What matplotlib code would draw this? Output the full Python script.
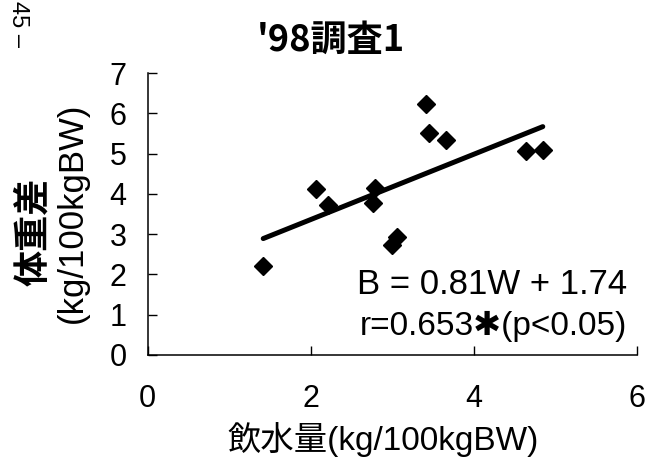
import matplotlib
matplotlib.use("Agg")
import matplotlib.pyplot as plt
import numpy as np

plt.rcParams['font.family'] = ['Liberation Sans', 'Noto Sans CJK JP', 'DejaVu Sans']

# water intake (kg/100kgBW) vs body weight difference (kg/100kgBW)
water = [1.42, 2.07, 2.22, 2.77, 2.79, 3.00, 3.06, 3.42, 3.45, 3.66, 4.65, 4.85]
weight_diff = [2.21, 4.11, 3.72, 3.78, 4.14, 2.72, 2.94, 6.23, 5.50, 5.33, 5.07, 5.09]

slope = 0.81
intercept = 1.74
r_value = 0.653

title = "'98調査1"
xlabel = "飲水量(kg/100kgBW)"
ylabel_main = "体重差"
ylabel_unit = "(kg/100kgBW)"
xticks = [0, 2, 4, 6]
yticks = [0, 1, 2, 3, 4, 5, 6, 7]

W, H = 648, 469
fig = plt.figure(figsize=(W / 100, H / 100), dpi=100)
fig.patch.set_facecolor("white")

x0, x1 = 147.5, 636.5
y0, y1 = 355, 73
ax = fig.add_axes([x0 / W, 1 - y0 / H, (x1 - x0) / W, (y0 - y1) / H])

ax.plot(water, weight_diff, linestyle="none", marker="D", ms=9,
        color="black", clip_on=False)

# regression line over the range of the data
lx = np.array([min(water), max(water)])
ax.plot(lx, slope * lx + intercept, color="black", lw=3.6,
        solid_capstyle="round")

ax.set_xlim(0, 6)
ax.set_ylim(0, 7)
ax.set_xticks(xticks)
ax.set_yticks(yticks)
for s in ["top", "right"]:
    ax.spines[s].set_visible(False)
for s in ["left", "bottom"]:
    ax.spines[s].set_linewidth(1.1)
ax.tick_params(axis="both", direction="in", length=6.5, width=1.0,
               labelsize=22)
ax.tick_params(axis="x", pad=21)
ax.tick_params(axis="y", pad=15)

ax.text(2.57, 1.76, "B = %.2fW + %.2f" % (slope, intercept),
        fontsize=25, va="center", ha="left")
ax.text(2.61, 0.72, "r=%.3f✱(p<0.05)" % r_value,
        fontsize=24, va="center", ha="left")

fig.text(331 / W, 1 - 40 / H, title, ha="center", va="center",
         fontsize=26, fontweight="bold",
         family=["Noto Sans CJK JP", "DejaVu Sans"])
fig.text(383 / W, 1 - 440 / H, xlabel, ha="center", va="center",
         fontsize=24)
fig.text(34 / W, 1 - 232 / H, ylabel_main, ha="center", va="center",
         rotation=90, fontsize=26, fontweight="bold",
         family=["Noto Sans CJK JP", "DejaVu Sans"])
fig.text(72 / W, 1 - 213 / H, ylabel_unit, ha="center", va="center",
         rotation=90, fontsize=25)

# page number running down the left margin
fig.text(18 / W, 1 - 1 / H, "45 –", ha="center", va="top",
         rotation=-90, fontsize=17)

fig.savefig("out.png", dpi=100, facecolor="white")
